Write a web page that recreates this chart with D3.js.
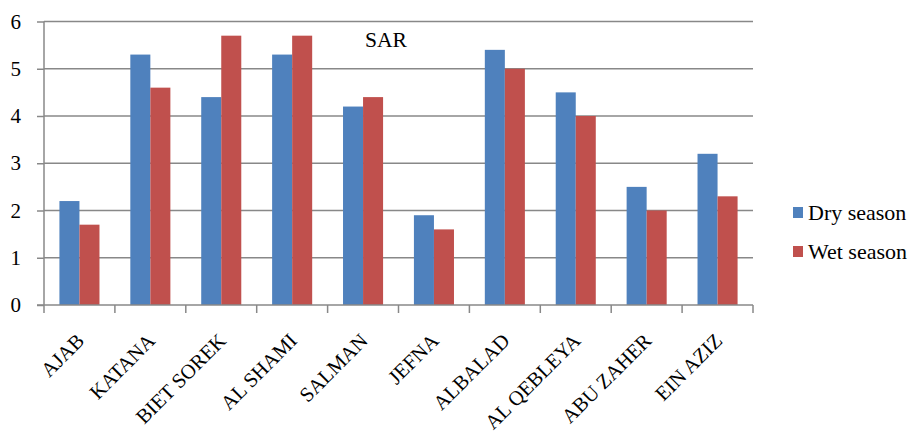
<!DOCTYPE html>
<html>
<head>
<meta charset="utf-8">
<script src="https://cdn.jsdelivr.net/npm/d3@7"></script>
<style>
  body { margin: 0; background: #fff; }
</style>
</head>
<body>
<div id="chart"></div>
<script>
// data
var categories = ["AJAB", "KATANA", "BIET SOREK", "AL SHAMI", "SALMAN", "JEFNA", "ALBALAD", "AL QEBLEYA", "ABU ZAHER", "EIN AZIZ"];
var series = ["Dry season", "Wet season"];
var dry = [2.2, 5.3, 4.4, 5.3, 4.2, 1.9, 5.4, 4.5, 2.5, 3.2];
var wet = [1.7, 4.6, 5.7, 5.7, 4.4, 1.6, 5.0, 4.0, 2.0, 2.3];
var yTicks = [0, 1, 2, 3, 4, 5, 6];
var colors = ["#4F81BD", "#C0504D"];

var width = 911, height = 435;
var plotLeft = 44, plotRight = 753, plotTop = 21.5, plotBottom = 305;
var fontFam = "'Liberation Serif', 'Times New Roman', Times, serif";

var svg = d3.select("#chart").append("svg")
    .attr("width", width)
    .attr("height", height)
    .style("font-family", fontFam);

var x0 = d3.scaleBand().domain(categories).range([plotLeft, plotRight]).padding(0);
var x1 = d3.scaleBand().domain(series).range([0, x0.bandwidth()]).paddingInner(0).paddingOuter(0.77);
var y = d3.scaleLinear().domain([0, 6]).range([plotBottom, plotTop]);

var grid = "#888888";

// gridlines
svg.append("g").selectAll("line")
    .data(yTicks.filter(function(d) { return d > 0; }))
    .enter().append("line")
    .attr("x1", plotLeft).attr("x2", plotRight)
    .attr("y1", function(d) { return y(d); })
    .attr("y2", function(d) { return y(d); })
    .attr("stroke", grid).attr("stroke-width", 1.5);

// bars
var rows = categories.map(function(c, i) { return {cat: c, vals: [dry[i], wet[i]]}; });
var groups = svg.append("g").selectAll("g")
    .data(rows)
    .enter().append("g")
    .attr("transform", function(d) { return "translate(" + x0(d.cat) + ",0)"; });

groups.selectAll("rect")
    .data(function(d) { return d.vals.map(function(v, j) { return {s: series[j], v: v, j: j}; }); })
    .enter().append("rect")
    .attr("x", function(d) { return x1(d.s); })
    .attr("width", x1.bandwidth())
    .attr("y", function(d) { return y(d.v); })
    .attr("height", function(d) { return y(0) - y(d.v); })
    .attr("fill", function(d) { return colors[d.j]; });

// y axis
var yAxis = svg.append("g")
    .attr("transform", "translate(" + plotLeft + ",0)")
    .call(d3.axisLeft(y).tickValues(yTicks).tickFormat(d3.format("d")).tickSize(7).tickPadding(16));
yAxis.attr("font-family", fontFam);
yAxis.select(".domain").attr("stroke", grid).attr("stroke-width", 1.5).attr("d", "M0," + plotTop + "V" + plotBottom);
yAxis.selectAll(".tick line").attr("stroke", grid).attr("stroke-width", 1.5);
yAxis.selectAll(".tick text")
    .attr("font-size", 21).attr("fill", "#000");

// x axis
var xAxis = svg.append("g")
    .attr("transform", "translate(0," + plotBottom + ")");
xAxis.append("line")
    .attr("x1", plotLeft - 7).attr("x2", plotRight)
    .attr("stroke", grid).attr("stroke-width", 1.5);
xAxis.selectAll(".xt")
    .data(categories.concat(["end"]))
    .enter().append("line")
    .attr("x1", function(d, i) { return plotLeft + i * x0.step(); })
    .attr("x2", function(d, i) { return plotLeft + i * x0.step(); })
    .attr("y1", 0).attr("y2", 8)
    .attr("stroke", grid).attr("stroke-width", 1.5);

svg.append("g").selectAll("text")
    .data(categories)
    .enter().append("text")
    .attr("transform", function(d) {
        return "translate(" + (x0(d) + x0.bandwidth() / 2 + 6) + "," + (plotBottom + 37) + ") rotate(-45)";
    })
    .attr("text-anchor", "end")
    .attr("font-size", 20.5)
    .text(function(d) { return d; });

// title
svg.append("text")
    .attr("transform", "translate(386,47) scale(1.08,1)")
    .attr("text-anchor", "middle")
    .attr("font-size", 20)
    .text("SAR");

// legend
var legend = svg.append("g").selectAll("g")
    .data(series)
    .enter().append("g")
    .attr("transform", function(d, i) { return "translate(793," + (207 + i * 39) + ")"; });
legend.append("rect")
    .attr("width", 10).attr("height", 11)
    .attr("fill", function(d, i) { return colors[i]; });
legend.append("text")
    .attr("transform", "translate(15,13) scale(1.1,1)")
    .attr("font-size", 20)
    .text(function(d) { return d; });
</script>
</body>
</html>
